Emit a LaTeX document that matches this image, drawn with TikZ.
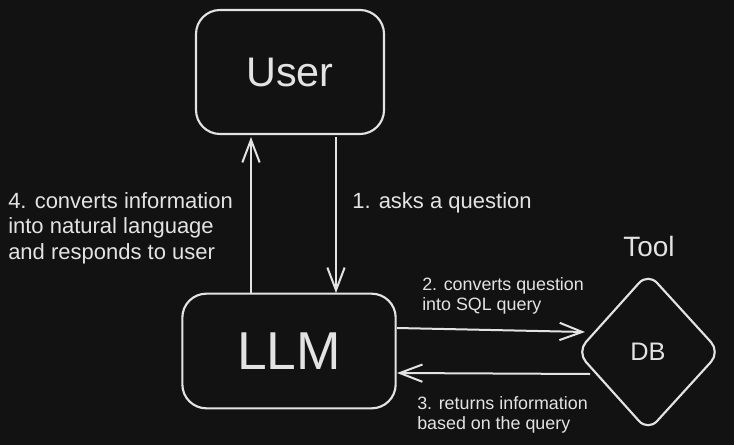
\documentclass[tikz,border=0pt]{standalone}
\usepackage{fontspec}
\setmainfont{Liberation Sans}
\usetikzlibrary{arrows.meta}
\definecolor{bg}{HTML}{121212}
\definecolor{ink}{HTML}{E3E3E3}
\begin{document}
\begin{tikzpicture}[x=0.75pt,y=-0.75pt,
  box/.style={draw=ink,line width=1.6pt,rounded corners=18pt,inner sep=0pt},
  conn/.style={draw=ink,line width=1.5pt,-{Straight Barb[length=17pt,width=13pt,line width=1.5pt]}},
  lbl/.style={text=ink,font=\fontsize{16.5}{19}\selectfont,align=left,inner sep=0pt},
  slbl/.style={text=ink,font=\fontsize{13.4}{15.5}\selectfont,align=left,inner sep=0pt}]
\fill[bg] (0,0) rectangle (734,445);
\useasboundingbox (0,0) rectangle (734,445);
% boxes
\node[box,minimum width=141pt,minimum height=93pt,text=ink,font=\fontsize{31}{36}\selectfont] (user) at (290,72) {User};
\node[box,minimum width=160pt,minimum height=86pt,text=ink,font=\fontsize{40}{46}\selectfont] (llm) at (289,351) {LLM};
\coordinate (db) at (648,352);
\draw[draw=ink,line width=1.6pt,rounded corners=10pt] (648,273) -- (720,352) -- (648,431) -- (577,352) -- cycle;
\node[text=ink,font=\fontsize{19}{22}\selectfont] (dbt) at (648,352) {DB};
\node[text=ink,font=\fontsize{21}{24}\selectfont] (tool) at (649,246) {Tool};
% connectors
\coordinate (u1) at (251,137);
\coordinate (l1) at (251,293);
\coordinate (u2) at (336,137);
\coordinate (l2) at (336,293);
\draw[conn] (l1) -- (u1);
\draw[conn] (u2) -- (l2);
\coordinate (a2s) at (397,328);
\coordinate (a2e) at (585,332);
\coordinate (a3s) at (590,374);
\coordinate (a3e) at (397,373);
\draw[conn] (a2s) -- (a2e);
\draw[conn] (a3s) -- (a3e);
% labels
\node[lbl,anchor=west] (t4) at (8,228) {4. converts information\\into natural language\\and responds to user};
\node[lbl,anchor=west] (t1) at (352,203) {1. asks a question};
\node[slbl,anchor=west] (t2) at (422,296) {2. converts question\\into SQL query};
\node[slbl,anchor=west] (t3) at (417,415) {3. returns information\\based on the query};
\end{tikzpicture}
\end{document}
